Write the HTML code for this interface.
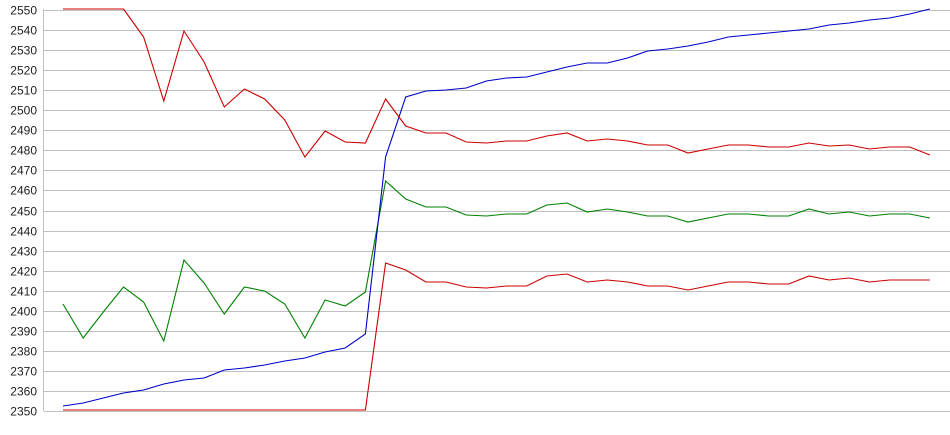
<!DOCTYPE html>
<html><head><meta charset="utf-8"><style>
html,body{margin:0;padding:0;background:#fff;width:950px;height:435px;overflow:hidden}
svg{display:block}
text{font-family:"Liberation Sans",Arial,sans-serif;font-size:12px;fill:#222}
</style></head><body>
<svg width="950" height="435" viewBox="0 0 950 435" xmlns="http://www.w3.org/2000/svg">
<g id="grid" stroke="#c0c0c0" stroke-width="1" shape-rendering="crispEdges"></g>
<line x1="43.5" y1="9" x2="43.5" y2="411" stroke="#c0c0c0" shape-rendering="crispEdges"/>
<g id="labels" text-anchor="end"></g>
<g id="series" fill="none" stroke-width="1.1"></g>
<script>
var ns="http://www.w3.org/2000/svg";
var g=document.getElementById('grid'),lb=document.getElementById('labels'),se=document.getElementById('series');
for(var i=0;i<=20;i++){var v=2550-i*10;var y=Math.round(10+i*20.05)+0.5;
var l=document.createElementNS(ns,'line');l.setAttribute('x1',44);l.setAttribute('x2',950);l.setAttribute('y1',y);l.setAttribute('y2',y);g.appendChild(l);
var t=document.createElementNS(ns,'text');t.setAttribute('x',37);t.setAttribute('y',y+4);t.textContent=v;lb.appendChild(t);}
function X(i){return 63+i*20.16;}
var red1=[9,9,9,9,37,101,31,62,107,89,99,120,157,131,142,143,99,126,133,133,142,143,141,141,136,133,141,139,141,145,145,153,149,145,145,147,147,143,146,145,149,147,147,155];
var green=[304,338,312,287,302,341,260,283,314,287,291,304,338,300,306,292,181,199,207,207,215,216,214,214,205,203,212,209,212,216,216,222,218,214,214,216,216,209,214,212,216,214,214,218];
var blue=[406,403,398,393,390,384,380,378,370,368,365,361,358,352,348,334,157,97,91,90,88,81,78,77,72,67,63,63,58,51,49,46,42,37,35,33,31,29,25,23,20,18,14,9];
var red3=[410,410,410,410,410,410,410,410,410,410,410,410,410,410,410,410,263,270,282,282,287,288,286,286,276,274,282,280,282,286,286,290,286,282,282,284,284,276,280,278,282,280,280,280];
function add(d,c){var p=d.map(function(y,i){return X(i).toFixed(1)+','+y}).join(' ');
var e=document.createElementNS(ns,'polyline');e.setAttribute('points',p);e.setAttribute('stroke',c);se.appendChild(e);}
add(red3,'#cc0000');add(green,'#008000');add(blue,'#0000cc');add(red1,'#cc0000');
</script>
</svg>
</body></html>
